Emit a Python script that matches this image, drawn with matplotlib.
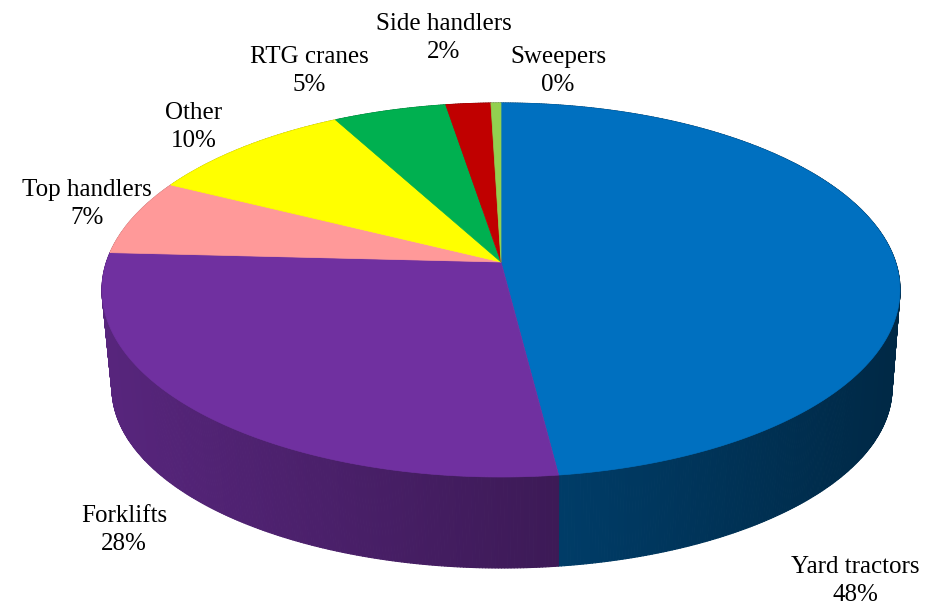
import numpy as np
import matplotlib.pyplot as plt
from matplotlib.collections import PolyCollection
from matplotlib.colors import to_rgb

# equipment share of the fleet (%)
labels = ["Yard tractors", "Forklifts", "Top handlers", "Other",
          "RTG cranes", "Side handlers", "Sweepers"]
shares = [48.0, 27.8, 6.6, 9.7, 5.3, 2.1, 0.47]
colors = ["#0070C0", "#7030A0", "#FF9999", "#FFFF00",
          "#00B050", "#C00000", "#92D050"]

# where the data labels sit (pixels, centre of the two-line block)
label_pos = [(855, 581), (124, 530), (87, 204), (194, 127),
             (309, 71), (444, 38), (558, 71)]

W, H = 933, 611
top = dict(cx=501, cy=290, a=399, b=187)
bot = dict(cx=502, cy=388, a=390, b=180)
S = -0.1497  # perspective shift of the disc centre


def project(theta, e):
    # theta measured clockwise from 12 o'clock on the real (round) disc
    u = np.sin(theta)
    v = -np.cos(theta)
    d = 1 + S * v
    up = u * np.sqrt(1 - S**2) / d
    vp = (v + S) / d
    return e["cx"] + e["a"] * up, e["cy"] + e["b"] * vp, up, vp


fig = plt.figure(figsize=(W / 100, H / 100), dpi=100)
ax = fig.add_axes([0, 0, 1, 1])
ax.set_xlim(0, W)
ax.set_ylim(H, 0)
ax.axis("off")

total = sum(shares)
bounds = np.concatenate([[0], np.cumsum(shares)]) / total * 2 * np.pi

# side wall, drawn as thin strips so it can be shaded
strips, strip_cols, depth = [], [], []
for i in range(len(shares)):
    n = max(3, int((bounds[i + 1] - bounds[i]) / (2 * np.pi) * 900))
    th = np.linspace(bounds[i], bounds[i + 1], n + 1)
    base = np.array(to_rgb(colors[i]))
    for t0, t1 in zip(th[:-1], th[1:]):
        x0, y0, _, _ = project(t0, top)
        x1, y1, _, _ = project(t1, top)
        bx0, by0, _, _ = project(t0, bot)
        bx1, by1, _, _ = project(t1, bot)
        _, _, um, vm = project((t0 + t1) / 2, top)
        f = 0.57 - 0.21 * um
        strips.append([(x0, y0), (x1, y1), (bx1, by1), (bx0, by0)])
        strip_cols.append(np.clip(base * f, 0, 1))
        depth.append(vm)

order = np.argsort(depth)
pc = PolyCollection([strips[k] for k in order],
                    facecolors=[strip_cols[k] for k in order],
                    edgecolors=[strip_cols[k] for k in order],
                    linewidths=0.8)
ax.add_collection(pc)

# top face
apex = (top["cx"], top["cy"] + top["b"] * S)
for i in range(len(shares)):
    th = np.linspace(bounds[i], bounds[i + 1], 200)
    xs, ys, _, _ = project(th, top)
    poly = [apex] + list(zip(xs, ys))
    ax.fill([p[0] for p in poly], [p[1] for p in poly],
            facecolor=colors[i], edgecolor=colors[i], linewidth=0.5)

for lab, val, (lx, ly) in zip(labels, shares, label_pos):
    ax.text(lx, ly, f"{lab}\n{val / total * 100:.0f}%", ha="center", va="center",
            fontsize=18, family="Liberation Serif", linespacing=1.3, color="black")

fig.savefig("out.png", dpi=100)
